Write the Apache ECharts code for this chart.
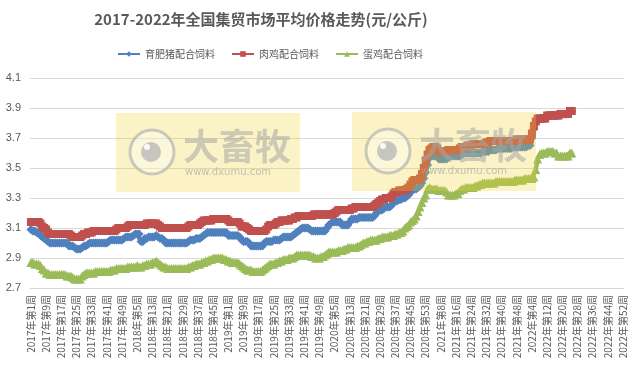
<!DOCTYPE html>
<html>
<head>
<meta charset="utf-8">
<script src="https://cdn.jsdelivr.net/npm/echarts@6/dist/echarts.min.js"></script>
<style>
html,body{margin:0;padding:0;background:#fff;}
#chart{width:634px;height:375px;}
</style>
</head>
<body>
<div id="chart"></div>
<script>
// ---- data ----
var years = [2017, 2018, 2019, 2020, 2021, 2022];
var weeksPerYear = [52, 52, 52, 53, 52, 52];
var yTicks = [2.7, 2.9, 3.1, 3.3, 3.5, 3.7, 3.9, 4.1];
var seriesNames = ['育肥猪配合饲料', '肉鸡配合饲料', '蛋鸡配合饲料'];

var pigFeed = [
3.09,3.08,3.08,3.07,3.07,3.05,3.04,3.03,3.02,3.01,
3.00,3.00,3.00,3.00,3.00,3.00,3.00,3.00,3.00,3.00,
2.98,2.98,2.98,2.97,2.96,2.96,2.96,2.97,2.98,2.98,
2.99,3.00,3.00,3.00,3.00,3.00,3.00,3.00,3.00,3.00,
3.00,3.01,3.02,3.02,3.02,3.02,3.02,3.02,3.02,3.03,
3.04,3.04,3.04,3.04,3.05,3.06,3.06,3.06,3.01,3.01,
3.03,3.03,3.04,3.04,3.04,3.04,3.05,3.04,3.03,3.03,
3.02,3.00,3.00,3.00,3.00,3.00,3.00,3.00,3.00,3.00,
3.00,3.00,3.00,3.01,3.02,3.02,3.02,3.03,3.03,3.03,
3.04,3.05,3.06,3.07,3.07,3.07,3.07,3.07,3.07,3.07,
3.07,3.07,3.07,3.07,3.05,3.05,3.05,3.05,3.05,3.05,
3.04,3.02,3.01,3.01,3.01,3.00,2.98,2.98,2.98,2.98,
2.98,2.98,2.98,3.00,3.01,3.01,3.01,3.01,3.02,3.02,
3.02,3.02,3.03,3.04,3.04,3.04,3.04,3.04,3.05,3.06,
3.07,3.08,3.09,3.10,3.10,3.10,3.10,3.09,3.08,3.08,
3.08,3.08,3.08,3.08,3.08,3.08,3.10,3.12,3.13,3.14,
3.14,3.14,3.14,3.14,3.12,3.12,3.12,3.12,3.14,3.16,
3.16,3.16,3.16,3.17,3.17,3.17,3.17,3.17,3.17,3.17,
3.17,3.18,3.20,3.21,3.22,3.22,3.23,3.24,3.24,3.24,
3.25,3.27,3.28,3.28,3.29,3.29,3.30,3.30,3.31,3.32,
3.34,3.35,3.36,3.36,3.37,3.38,3.40,3.43,3.47,3.52,
3.57,3.58,3.58,3.58,3.58,3.56,3.56,3.56,3.56,3.56,
3.57,3.58,3.58,3.58,3.58,3.58,3.58,3.59,3.60,3.60,
3.60,3.60,3.60,3.60,3.60,3.60,3.60,3.60,3.61,3.61,
3.61,3.61,3.62,3.62,3.62,3.62,3.63,3.63,3.63,3.63,
3.63,3.63,3.63,3.63,3.64,3.64,3.64,3.64,3.64,3.64,
3.64,3.64,3.65,3.65,3.70,3.76,3.80,3.82,3.83,3.83,
3.83,3.83,3.85,3.85,3.85,3.85,3.85,3.85,3.86,3.86,
3.86,3.86,3.86,3.86,3.87,3.88
];

var broilerFeed = [
3.14,3.14,3.14,3.14,3.14,3.13,3.11,3.10,3.09,3.07,
3.06,3.06,3.06,3.06,3.06,3.06,3.06,3.06,3.06,3.06,
3.06,3.05,3.04,3.04,3.04,3.04,3.04,3.05,3.06,3.06,
3.07,3.07,3.07,3.08,3.08,3.08,3.08,3.08,3.08,3.08,
3.08,3.08,3.08,3.08,3.08,3.09,3.10,3.10,3.10,3.10,
3.10,3.11,3.12,3.12,3.12,3.12,3.12,3.12,3.12,3.12,
3.12,3.13,3.13,3.13,3.13,3.13,3.13,3.12,3.11,3.10,
3.10,3.10,3.10,3.10,3.10,3.10,3.10,3.10,3.10,3.10,
3.10,3.10,3.10,3.11,3.12,3.12,3.12,3.12,3.12,3.13,
3.14,3.15,3.15,3.15,3.15,3.15,3.16,3.16,3.16,3.16,
3.16,3.16,3.16,3.16,3.15,3.14,3.14,3.14,3.14,3.14,
3.13,3.11,3.11,3.11,3.10,3.09,3.08,3.08,3.08,3.08,
3.08,3.08,3.08,3.08,3.09,3.11,3.12,3.12,3.12,3.13,
3.14,3.14,3.15,3.15,3.15,3.15,3.15,3.16,3.16,3.17,
3.17,3.18,3.18,3.18,3.18,3.18,3.18,3.18,3.18,3.19,
3.19,3.19,3.19,3.19,3.19,3.19,3.19,3.19,3.19,3.19,
3.20,3.21,3.22,3.22,3.22,3.22,3.22,3.22,3.22,3.23,
3.23,3.24,3.24,3.24,3.24,3.24,3.24,3.24,3.24,3.24,
3.24,3.25,3.26,3.27,3.28,3.29,3.29,3.30,3.30,3.30,
3.31,3.33,3.34,3.34,3.35,3.35,3.35,3.35,3.36,3.37,
3.39,3.41,3.42,3.42,3.42,3.43,3.46,3.50,3.55,3.59,
3.62,3.63,3.64,3.64,3.63,3.61,3.61,3.61,3.61,3.61,
3.62,3.62,3.62,3.62,3.62,3.62,3.63,3.64,3.64,3.64,
3.65,3.65,3.65,3.66,3.66,3.66,3.66,3.66,3.66,3.66,
3.67,3.67,3.68,3.68,3.68,3.68,3.68,3.68,3.68,3.68,
3.68,3.68,3.68,3.68,3.68,3.68,3.69,3.69,3.69,3.69,
3.69,3.69,3.69,3.69,3.73,3.78,3.81,3.83,3.83,3.83,
3.83,3.83,3.85,3.85,3.85,3.85,3.85,3.85,3.85,3.86,
3.86,3.86,3.86,3.86,3.88,3.88
];

var layerFeed = [
2.87,2.87,2.86,2.86,2.86,2.85,2.83,2.82,2.80,2.80,
2.79,2.79,2.79,2.79,2.79,2.79,2.79,2.79,2.79,2.78,
2.78,2.78,2.77,2.76,2.76,2.76,2.76,2.78,2.79,2.80,
2.80,2.80,2.80,2.80,2.81,2.81,2.81,2.81,2.81,2.81,
2.81,2.81,2.82,2.82,2.82,2.83,2.83,2.83,2.83,2.83,
2.83,2.84,2.84,2.84,2.84,2.84,2.85,2.84,2.84,2.85,
2.85,2.86,2.86,2.86,2.87,2.87,2.88,2.87,2.86,2.85,
2.84,2.84,2.83,2.83,2.83,2.83,2.83,2.83,2.83,2.83,
2.83,2.83,2.83,2.84,2.84,2.85,2.85,2.86,2.86,2.86,
2.87,2.87,2.88,2.88,2.89,2.89,2.90,2.90,2.90,2.90,
2.90,2.90,2.89,2.89,2.88,2.88,2.87,2.87,2.87,2.87,
2.86,2.85,2.84,2.83,2.82,2.82,2.82,2.81,2.81,2.81,
2.81,2.81,2.82,2.83,2.84,2.85,2.86,2.86,2.86,2.87,
2.87,2.88,2.88,2.89,2.89,2.89,2.90,2.90,2.90,2.91,
2.92,2.92,2.92,2.92,2.92,2.92,2.92,2.92,2.91,2.91,
2.90,2.90,2.90,2.91,2.91,2.92,2.93,2.94,2.94,2.94,
2.94,2.94,2.95,2.95,2.95,2.96,2.96,2.97,2.97,2.97,
2.97,2.97,2.98,2.98,2.99,3.00,3.00,3.01,3.01,3.02,
3.02,3.02,3.02,3.03,3.03,3.04,3.04,3.04,3.04,3.05,
3.05,3.05,3.06,3.06,3.07,3.07,3.08,3.10,3.11,3.12,
3.14,3.15,3.16,3.18,3.21,3.24,3.27,3.30,3.32,3.36,
3.37,3.36,3.36,3.36,3.36,3.35,3.35,3.35,3.35,3.34,
3.32,3.32,3.32,3.32,3.33,3.33,3.35,3.36,3.36,3.37,
3.37,3.37,3.37,3.37,3.38,3.38,3.39,3.39,3.40,3.40,
3.40,3.40,3.40,3.40,3.40,3.41,3.41,3.41,3.41,3.41,
3.41,3.41,3.41,3.41,3.41,3.42,3.42,3.42,3.42,3.42,
3.43,3.43,3.43,3.43,3.43,3.44,3.49,3.56,3.59,3.60,
3.60,3.60,3.61,3.61,3.61,3.61,3.60,3.60,3.58,3.58,
3.58,3.58,3.58,3.58,3.60,3.60
];

// ---- categories (week labels) ----
var categories = [];
for (var yi = 0; yi < years.length; yi++) {
  for (var w = 1; w <= weeksPerYear[yi]; w++) {
    categories.push(years[yi] + '年第' + w + '周');
  }
}

var FONT = '"Noto Sans CJK SC", "Noto Sans", sans-serif';
var TXT = '#595959';

function watermark(dx, dy) {
  return [
    { type: 'rect', z: 100, shape: { x: 116 + dx, y: 113 + dy, width: 184, height: 79 },
      style: { fill: 'rgba(240,212,40,0.27)' } },
    { type: 'circle', z: 101, shape: { cx: 152 + dx, cy: 152 + dy, r: 22 },
      style: { fill: 'rgba(255,255,255,0.35)', stroke: 'rgba(180,180,180,0.7)', lineWidth: 3 } },
    { type: 'circle', z: 102, shape: { cx: 151 + dx, cy: 152 + dy, r: 10 },
      style: { fill: 'rgba(180,180,180,0.75)' } },
    { type: 'circle', z: 103, shape: { cx: 147 + dx, cy: 147 + dy, r: 3 },
      style: { fill: 'rgba(255,255,255,0.9)' } },
    { type: 'text', z: 104, x: 183 + dx, y: 128 + dy,
      style: { text: '大畜牧', font: 'bold 36px ' + FONT, fill: 'rgba(165,165,165,0.55)' } },
    { type: 'text', z: 104, x: 185 + dx, y: 167 + dy,
      style: { text: 'www.dxumu.com', font: '10px "DejaVu Sans", sans-serif', fill: 'rgba(165,165,165,0.65)' } }
  ];
}

var chart = echarts.init(document.getElementById('chart'), null, { renderer: 'canvas' });
chart.setOption({
  animation: false,
  backgroundColor: '#ffffff',
  title: {
    text: '2017-2022年全国集贸市场平均价格走势(元/公斤)',
    left: 256, top: 7, textAlign: 'center',
    textStyle: { fontFamily: FONT, fontSize: 15, fontWeight: 'bold', color: TXT }
  },
  legend: {
    left: 112, top: 44,
    itemWidth: 22, itemHeight: 7, itemGap: 16,
    textStyle: { fontFamily: FONT, fontSize: 10, color: TXT },
    data: seriesNames
  },
  grid: { left: 30, right: 10, top: 78, bottom: 87, containLabel: false },
  xAxis: {
    type: 'category',
    data: categories,
    boundaryGap: true,
    axisLine: { lineStyle: { color: '#d9d9d9' } },
    axisTick: { show: false },
    axisLabel: { interval: 7, rotate: 90, fontSize: 10, color: TXT, fontFamily: FONT, margin: 7 },
    splitLine: { show: false }
  },
  yAxis: {
    type: 'value',
    min: yTicks[0], max: yTicks[yTicks.length - 1], interval: 0.2,
    axisLine: { show: false },
    axisTick: { show: false },
    axisLabel: { fontSize: 11, color: TXT, fontFamily: '"Liberation Sans", sans-serif', margin: 9,
      formatter: function (v) { return v.toFixed(1); } },
    splitLine: { lineStyle: { color: '#d9d9d9', width: 1 } }
  },
  series: [
    { name: seriesNames[0], type: 'line', data: pigFeed, symbol: 'diamond', symbolSize: 9,
      showAllSymbol: true, color: '#4F81BD', lineStyle: { width: 4.5 } },
    { name: seriesNames[1], type: 'line', data: broilerFeed, symbol: 'rect', symbolSize: 8,
      showAllSymbol: true, color: '#C0504D', lineStyle: { width: 4.5 } },
    { name: seriesNames[2], type: 'line', data: layerFeed, symbol: 'triangle', symbolSize: 9,
      showAllSymbol: true, color: '#9BBB59', lineStyle: { width: 4.5 } }
  ],
  graphic: watermark(0, 0).concat(watermark(236, -1))
});
</script>
</body>
</html>
